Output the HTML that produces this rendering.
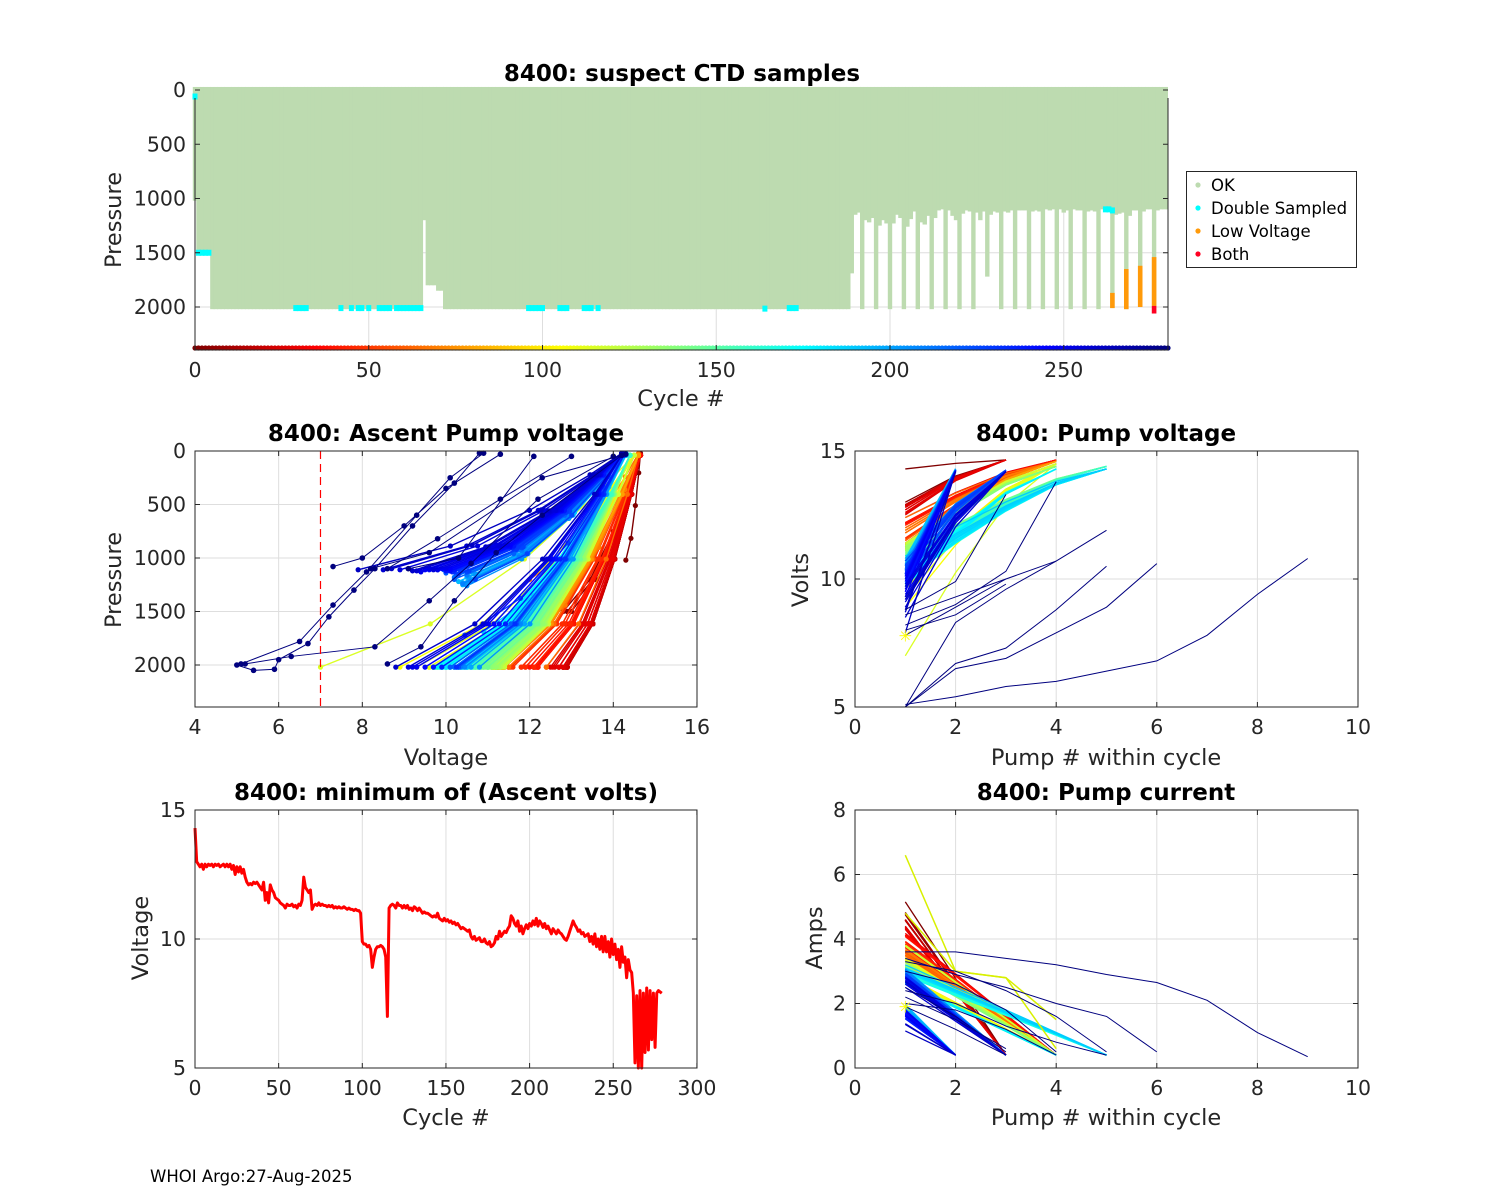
<!DOCTYPE html>
<html><head><meta charset="utf-8"><title>8400 float diagnostics</title>
<style>
html,body{margin:0;padding:0;background:#fff;}
svg{display:block;font-family:"DejaVu Sans","Liberation Sans",sans-serif;}
.tl{font-size:20.5px;fill:#262626;}
.al{font-size:22.5px;fill:#262626;}
.tt{font-size:23px;font-weight:bold;fill:#000;}
</style></head>
<body>
<svg id="fig" width="1500" height="1200" viewBox="0 0 1500 1200" xmlns="http://www.w3.org/2000/svg"></svg>
<script>
// ---------- data ----------
const cycles = Array.from({length: 281}, (_, i) => i);
// min ascent voltage per cycle
const minVolts = [
14.3,13.0,12.9,12.8,12.9,12.7,12.9,12.8,12.9,12.85,
12.9,12.8,12.9,12.85,12.9,12.8,12.85,12.9,12.8,12.9,
12.8,12.9,12.7,12.85,12.5,12.8,12.6,12.8,12.55,12.7,
12.4,12.2,12.1,12.15,12.1,12.2,12.15,12.2,12.1,12.0,
11.9,12.2,11.5,11.8,11.4,12.1,11.9,11.8,11.6,11.55,
11.5,11.4,11.35,11.3,11.2,11.35,11.3,11.3,11.35,11.25,
11.3,11.2,11.35,11.3,11.5,12.4,12.0,11.9,11.8,11.9,
11.15,11.3,11.35,11.3,11.4,11.3,11.35,11.3,11.3,11.25,
11.3,11.25,11.3,11.2,11.25,11.2,11.25,11.2,11.2,11.25,
11.2,11.15,11.2,11.15,11.15,11.1,11.15,11.1,11.1,11.0,
9.9,9.8,9.8,9.7,9.75,9.6,8.9,9.3,9.6,9.7,
9.7,9.75,9.7,9.6,9.3,7.0,11.2,11.3,11.35,11.3,
11.2,11.4,11.3,11.3,11.2,11.3,11.2,11.3,11.15,11.2,
11.1,11.25,11.2,11.1,11.2,11.1,11.0,11.05,11.0,11.0,
10.95,10.9,10.85,10.9,10.85,11.0,10.8,10.75,10.7,10.8,
10.7,10.75,10.65,10.7,10.6,10.65,10.55,10.6,10.5,10.4,
10.45,10.4,10.35,10.3,10.35,10.1,10.0,10.1,9.95,10.0,
10.05,9.9,9.9,10.0,9.85,9.8,9.9,9.7,9.75,9.85,
10.1,10.0,10.3,10.1,10.2,10.3,10.25,10.4,10.5,10.9,
10.8,10.6,10.5,10.7,10.3,10.5,10.2,10.4,10.55,10.4,
10.6,10.5,10.7,10.55,10.8,10.5,10.7,10.6,10.45,10.6,
10.4,10.5,10.35,10.2,10.4,10.3,10.2,10.35,10.25,10.2,
10.1,10.0,9.95,10.1,10.3,10.5,10.7,10.55,10.45,10.3,
10.35,10.2,10.25,10.1,10.15,10.2,9.9,10.1,9.8,10.2,
9.7,10.0,9.6,10.1,9.5,10.1,9.5,9.9,9.3,10.0,
9.4,9.8,9.2,9.6,8.9,9.7,9.1,9.3,8.5,9.2,
8.8,8.7,7.9,5.2,7.8,5.0,8.0,5.0,7.9,5.6,
8.1,5.7,8.0,6.1,7.9,5.8,7.9,8.0,7.95,7.9];
// max pressure per cycle as [count, pressure] runs
const depthRuns = [[1,1020],[4,1500],[61,2020],[1,1200],[3,1800],[2,1850],[117,2020],[1,1690],
[1,1150],[1,1130],[1,2020],[1,1200],[1,1220],[1,1180],[1,2020],[1,1250],[1,1200],[1,1230],[1,2020],
[1,1230],[1,1150],[1,1180],[1,2020],[1,1260],[1,1190],[1,1120],[1,2020],[1,1220],[1,1240],[1,1160],[1,2020],
[1,1180],[1,1110],[1,1100],[1,2020],[1,1110],[1,1160],[1,1200],[1,2020],[1,1140],[1,1110],[1,1120],[1,2020],
[1,1130],[1,1200],[1,1120],[1,1720],[1,1150],[1,1120],[1,1130],[1,2020],[1,1120],[1,1130],[1,1110],[1,2020],
[1,1110],[1,1110],[1,1110],[1,2020],[1,1120],[1,1110],[1,1120],[1,2020],[1,1100],[1,1110],[1,1100],[1,2020],
[1,1100],[1,1130],[1,1110],[1,2020],[1,1100],[1,1110],[1,1110],[1,2020],[1,1120],[1,1110],[1,1120],[1,2020],
[1,1100],[1,1110],[1,1100],[1,2010],[1,1150],[1,1140],[1,1130],[1,2020],[1,1160],[1,1110],[1,1110],[1,2000],
[1,1120],[1,1100],[1,1100],[1,2060],[1,1110],[1,1100],[1,1100],[1,1100]];
// double-sampled points [cycle, pressure]
const doubleSampled = [[0,60],[1,1500],[2,1500],[3,1500],[4,1500],[29,2010],[30,2010],[31,2010],[32,2010],
[42,2010],[45,2010],[47,2010],[48,2010],[50,2010],[53,2010],[54,2010],[55,2010],[56,2010],[58,2010],[59,2010],
[60,2010],[61,2010],[62,2010],[63,2010],[64,2010],[65,2010],[96,2010],[97,2010],[98,2010],[99,2010],[100,2010],
[105,2010],[106,2010],[107,2010],[112,2010],[113,2010],[114,2010],[116,2010],[164,2015],[171,2010],[172,2010],[173,2010],
[262,1100],[263,1100],[264,1110]];
// low voltage segments [cycle, pTop, pBottom]
const lowVoltage = [[264,1870,2010],[268,1650,2020],[272,1620,2000],[276,1540,1990]];
const bothFlags = [[276,1990,2060]];
// surface voltage by 40-cycle block
const surfaceVolts = [14.65,14.6,14.5,14.4,14.3,14.25,14.2,14.2];
// pumps per cycle by 10-cycle block
const pumpCount = [3,3,3,4,4,4,4,4,4,4,4,4,4,4,5,5,5,4,5,2,3,2,3,2,2,3,2,2];
// first-pump current by 10-cycle block
const firstCurrent = [4.2,4.0,3.8,3.7,3.5,3.4,3.3,3.2,3.0,3.2,3.0,3.6,3.1,3.0,3.0,2.9,3.0,2.8,3.1,1.9,3.0,1.8,2.9,1.7,1.9,3.0,1.8,1.8];
// anomalous late-cycle ascent profiles: [voltage, pressure] pairs
const oddProfiles = [
 [[5.0,2000],[5.4,2050],[5.9,2040],[6.0,1950],[6.7,1800],[7.2,1550],[7.8,1300],[8.3,1100],[9.2,700],[10.2,300],[10.8,20]],
 [[5.1,1990],[6.5,1780],[7.3,1440],[8.1,1130],[9.3,600],[10.1,250],[10.9,20]],
 [[5.2,1990],[6.3,1920],[8.3,1830],[9.6,1400],[10.6,1050],[12.2,450],[14.0,50]],
 [[7.3,1080],[8.0,1000],[9.0,700],[10.0,350],[11.3,30]],
 [[8.6,1100],[9.8,820],[11.3,450],[13.0,50]],
 [[8.6,1990],[9.4,1830],[10.2,1400],[11.2,950],[12.3,600],[14.2,40]],
 [[9.1,1100],[10.3,1000],[12.1,50]],
 [[8.2,1100],[9.6,950],[12.3,250],[14.3,30]]
];
const oddPumpVolts = [[5.1,5.4,5.8,6.0,6.4,6.8,7.8,9.4,10.8],[5.0,6.7,7.3,8.8,10.5],[5.0,6.5,6.9,7.9,8.9,10.6],
 [5.0,8.3,9.6,10.7,11.9],[8.2,9.0,10.3,13.8],[8.6,9.3,10.0,10.7],[8.8,9.9,13.3],[8.0,8.6,9.8],[7.8,8.9,10.0]];
const oddPumpAmps = [[3.6,3.6,3.4,3.2,2.9,2.65,2.1,1.1,0.35],[3.3,3.0,2.4,1.6,0.5],[3.4,2.9,2.5,2.0,1.6,0.5],
 [2.4,2.0,1.3,0.8,0.4],[3.0,2.6,1.8,0.5],[2.0,1.8,1.2,0.4],[2.5,1.6,0.5],[2.2,1.5,0.6],[1.9,1.2,0.4]];
const outlierAmps = [[6.6,3.0,2.8,1.5],[4.8,3.0,2.8,0.6]];

// ---------- helpers ----------
const NS = 'http://www.w3.org/2000/svg';
const svg = document.getElementById('fig');
function mk(tag, attrs, parent) {
  const e = document.createElementNS(NS, tag);
  for (const k in attrs) e.setAttribute(k, attrs[k]);
  (parent || svg).appendChild(e);
  return e;
}
function txt(s, attrs, parent) { const t = mk('text', attrs, parent); t.textContent = s; return t; }
function jet(t) {
  const c = v => Math.max(0, Math.min(1, v));
  const r = c(1.5 - Math.abs(4 * t - 3)), g = c(1.5 - Math.abs(4 * t - 2)), b = c(1.5 - Math.abs(4 * t - 1));
  return 'rgb(' + Math.round(r * 255) + ',' + Math.round(g * 255) + ',' + Math.round(b * 255) + ')';
}
function cycColor(i) { return jet(1 - i / 280); }
const maxP = [];
depthRuns.forEach(r => { for (let k = 0; k < r[0]; k++) maxP.push(r[1]); });

function axesFrame(g, box, xt, yt, xs, ys) {
  const [x0, y0, x1, y1] = box;
  const grid = mk('g', {}, g);
  
  
  xt.forEach(v => mk('line', {x1: xs(v), x2: xs(v), y1: y0, y2: y1, stroke: '#dedede', 'stroke-width': 1}, grid));
  yt.forEach(v => mk('line', {x1: x0, x2: x1, y1: ys(v), y2: ys(v), stroke: '#dedede', 'stroke-width': 1}, grid));
  return grid;
}
function axesBorder(g, box, xt, yt, xs, ys, xname, yname, opts) {
  opts = opts || {};
  const [x0, y0, x1, y1] = box;
  const b = mk('g', {}, g);
  
  
  const st = {stroke: '#262626', 'stroke-width': 1, fill: 'none'};
  if (opts.noTop) {
    mk('polyline', Object.assign({points: `${x0},${y0 + 10} ${x0},${y1} ${x1},${y1} ${x1},${y0 + 10}`}, st), b);
  } else {
    mk('rect', Object.assign({x: x0, y: y0, width: x1 - x0, height: y1 - y0}, st), b);
  }
  xt.forEach(v => {
    mk('line', {x1: xs(v), x2: xs(v), y1: y1, y2: y1 - 5, stroke: '#262626'}, b);
    if (!opts.noTop) mk('line', {x1: xs(v), x2: xs(v), y1: y0, y2: y0 + 5, stroke: '#262626'}, b);
  });
  yt.forEach(v => {
    mk('line', {x1: x0, x2: x0 + 5, y1: ys(v), y2: ys(v), stroke: '#262626'}, b);
    mk('line', {x1: x1, x2: x1 - 5, y1: ys(v), y2: ys(v), stroke: '#262626'}, b);
  });
  const xl = mk('g', {}, g);
  
  
  xt.forEach(v => txt(String(v), {x: xs(v), y: y1 + 27, 'text-anchor': 'middle', class: 'tl'}, xl));
  const yl = mk('g', {}, g);
  
  
  yt.forEach(v => txt(String(v), {x: x0 - 9, y: ys(v) + 7, 'text-anchor': 'end', class: 'tl'}, yl));
}

// ---------- panel 1: suspect CTD samples ----------
(function () {
  const g = mk('g', {});
  
  
  const box = [195, 88, 1168, 350];
  const xs = c => 195 + c * 3.475;
  const ys = p => 90 + p * 0.1085;
  const xt = [0, 50, 100, 150, 200, 250], yt = [0, 500, 1000, 1500, 2000];
  axesFrame(g, box, xt, yt, xs, ys);
  const ok = mk('g', {}, g);
  
  
  maxP.forEach((p, i) => {
    const x = xs(i) - 2.2;
    const w = (i === maxP.length - 1) ? Math.min(4.4, 1168 - x) : 4.4;
    const r = mk('rect', {x: x, y: ys(-28), width: w, height: ys(p) - ys(-28), fill: '#bddbb0'}, ok);
    
    
  });
  const ds = mk('g', {}, g);
  
  
  doubleSampled.forEach(d => {
    const r = mk('rect', {x: xs(d[0]) - 2.5, y: ys(d[1]) - 3, width: 5, height: 6, fill: '#00ffff'}, ds);
    
    
  });
  lowVoltage.forEach(d => {
    const r = mk('rect', {x: xs(d[0]) - 2.3, y: ys(d[1]), width: 4.6, height: ys(d[2]) - ys(d[1]), fill: '#ff9a0a'}, g);
    
    
  });
  bothFlags.forEach(d => {
    const r = mk('rect', {x: xs(d[0]) - 2.3, y: ys(d[1]), width: 4.6, height: ys(d[2]) - ys(d[1]), fill: '#ff0022'}, g);
    
    
  });
  const cb = mk('g', {}, g);
  
  
  cycles.forEach(i => {
    const c = mk('circle', {cx: xs(i), cy: 348, r: 2.6, fill: cycColor(i)}, cb);
    
    
  });
  axesBorder(g, box, xt, yt, xs, ys, 'ctd', 'ctd', {noTop: true});
  const t = txt('8400: suspect CTD samples', {x: 682, y: 81, 'text-anchor': 'middle', class: 'tt'}, g);
   
  const xl = txt('Cycle #', {x: 681, y: 406, 'text-anchor': 'middle', class: 'al'}, g);
   
  const yl = txt('Pressure', {x: 0, y: 0, 'text-anchor': 'middle', class: 'al', transform: 'translate(121,220) rotate(-90)'}, g);
   
  // legend
  const lg = mk('g', {}, g);
  
  
  mk('rect', {x: 1186.5, y: 171.5, width: 170, height: 96, fill: '#fff', stroke: '#262626'}, lg);
  const items = [['OK', '#bddbb0'], ['Double Sampled', '#00ffff'], ['Low Voltage', '#ff9a0a'], ['Both', '#ff0022']];
  items.forEach((it, k) => {
    const e = mk('g', {}, lg);
    
    
    mk('circle', {cx: 1198, cy: 185 + k * 23, r: 2.6, fill: it[1]}, e);
    txt(it[0], {x: 1211, y: 191 + k * 23, style: 'font-size:16.5px;fill:#000'}, e);
  });
})();

// ---------- panel 2: ascent pump voltage ----------
(function () {
  const g = mk('g', {});
  
  
  const box = [195, 451, 697, 707];
  const xs = v => 195 + (v - 4) * 41.83;
  const ys = p => 451 + p * 0.107;
  const xt = [4, 6, 8, 10, 12, 14, 16], yt = [0, 500, 1000, 1500, 2000];
  axesFrame(g, box, xt, yt, xs, ys);
  const fr = [0, 0.35, 0.65, 0.88, 1], pf = [1, 0.8, 0.5, 0.2, 0.02];
  const prof = mk('g', {}, g);
  
  
  for (let i = 0; i < 263; i++) {
    const vs = surfaceVolts[Math.floor(i / 40)];
    const vm = minVolts[i], D = maxP[i];
    const pts = fr.map((f, k) => [xs(vm + f * (vs - vm)), ys(D * pf[k])]);
    const col = cycColor(i);
    const l = mk('polyline', {points: pts.map(p => p.join(',')).join(' '), fill: 'none', stroke: col, 'stroke-width': 1.4}, prof);
    
    
    pts.forEach(p => mk('circle', {cx: p[0], cy: p[1], r: 2.6, fill: col}, prof));
  }
  oddProfiles.forEach(pr => {
    const pts = pr.map(d => [xs(d[0]), ys(d[1])]);
    const l = mk('polyline', {points: pts.map(p => p.join(',')).join(' '), fill: 'none', stroke: '#00007f', 'stroke-width': 1}, prof);
    
    
    pts.forEach(p => mk('circle', {cx: p[0], cy: p[1], r: 2.8, fill: '#00007f'}, prof));
  });
  const th = mk('line', {x1: xs(7), x2: xs(7), y1: 451, y2: 707, stroke: '#ff0000', 'stroke-width': 1.2, 'stroke-dasharray': '8,5'}, g);
  
  
  axesBorder(g, box, xt, yt, xs, ys, 'ascent', 'ascent');
  const t = txt('8400: Ascent Pump voltage', {x: 446, y: 441, 'text-anchor': 'middle', class: 'tt'}, g);
   
  const xl = txt('Voltage', {x: 446, y: 765, 'text-anchor': 'middle', class: 'al'}, g);
   
  const yl = txt('Pressure', {x: 0, y: 0, 'text-anchor': 'middle', class: 'al', transform: 'translate(121,580) rotate(-90)'}, g);
   
})();

// ---------- panel 3: pump voltage ----------
(function () {
  const g = mk('g', {});
  
  
  const box = [855, 451, 1358, 707];
  const xs = k => 855 + k * 50.3;
  const ys = v => 707 - (v - 5) * 25.6;
  const xt = [0, 2, 4, 6, 8, 10], yt = [5, 10, 15];
  axesFrame(g, box, xt, yt, xs, ys);
  const L = mk('g', {}, g);
  
  
  for (let i = 0; i < 263; i++) {
    const n = pumpCount[Math.floor(i / 10)];
    const vs = surfaceVolts[Math.floor(i / 40)];
    const v1 = minVolts[i];
    const pts = [];
    for (let k = 1; k <= n; k++) {
      const f = 1 - Math.pow(1 - (k - 1) / (n - 1), 1.4);
      pts.push([xs(k), ys(v1 + f * (vs - v1))]);
    }
    const l = mk('polyline', {points: pts.map(p => p.join(',')).join(' '), fill: 'none', stroke: cycColor(i), 'stroke-width': 1.3}, L);
    
    
  }
  oddPumpVolts.forEach(arr => {
    const pts = arr.map((v, k) => [xs(k + 1), ys(v)]);
    const l = mk('polyline', {points: pts.map(p => p.join(',')).join(' '), fill: 'none', stroke: '#00007f', 'stroke-width': 1}, L);
    
    
  });
  const st = txt('✳', {x: xs(1), y: ys(7.8) + 6, 'text-anchor': 'middle', style: 'font-size:16px;fill:#ffff00'}, g);
   
  axesBorder(g, box, xt, yt, xs, ys, 'pump-volts', 'pump-volts');
  const t = txt('8400: Pump voltage', {x: 1106, y: 441, 'text-anchor': 'middle', class: 'tt'}, g);
   
  const xl = txt('Pump # within cycle', {x: 1106, y: 765, 'text-anchor': 'middle', class: 'al'}, g);
   
  const yl = txt('Volts', {x: 0, y: 0, 'text-anchor': 'middle', class: 'al', transform: 'translate(808,580) rotate(-90)'}, g);
   
})();

// ---------- panel 4: minimum ascent volts ----------
(function () {
  const g = mk('g', {});
  
  
  const box = [195, 810, 697, 1068];
  const xs = c => 195 + c * 1.673;
  const ys = v => 1068 - (v - 5) * 25.8;
  const xt = [0, 50, 100, 150, 200, 250, 300], yt = [5, 10, 15];
  axesFrame(g, box, xt, yt, xs, ys);
  const pts = minVolts.map((v, i) => xs(i) + ',' + ys(v)).join(' ');
  const l = mk('polyline', {points: pts, fill: 'none', stroke: '#ff0000', 'stroke-width': 3, 'stroke-linejoin': 'round'}, g);
  
  
  axesBorder(g, box, xt, yt, xs, ys, 'min-volts', 'min-volts');
  const t = txt('8400: minimum of (Ascent volts)', {x: 446, y: 800, 'text-anchor': 'middle', class: 'tt'}, g);
   
  const xl = txt('Cycle #', {x: 446, y: 1125, 'text-anchor': 'middle', class: 'al'}, g);
   
  const yl = txt('Voltage', {x: 0, y: 0, 'text-anchor': 'middle', class: 'al', transform: 'translate(148,938) rotate(-90)'}, g);
   
})();

// ---------- panel 5: pump current ----------
(function () {
  const g = mk('g', {});
  
  
  const box = [855, 810, 1358, 1068];
  const xs = k => 855 + k * 50.3;
  const ys = a => 1068 - a * 32.25;
  const xt = [0, 2, 4, 6, 8, 10], yt = [0, 2, 4, 6, 8];
  axesFrame(g, box, xt, yt, xs, ys);
  const L = mk('g', {}, g);
  
  
  for (let i = 0; i < 263; i++) {
    const n = pumpCount[Math.floor(i / 10)];
    const a1 = firstCurrent[Math.floor(i / 10)] + (minVolts[i] - 10.5) * 0.25;
    const pts = [];
    for (let k = 1; k <= n; k++) {
      const f = (k - 1) / (n - 1);
      pts.push([xs(k), ys(a1 + f * (0.4 - a1))]);
    }
    const l = mk('polyline', {points: pts.map(p => p.join(',')).join(' '), fill: 'none', stroke: cycColor(i), 'stroke-width': 1.3}, L);
    
    
  }
  outlierAmps.forEach(arr => {
    const pts = arr.map((a, k) => [xs(k + 1), ys(a)]);
    const l = mk('polyline', {points: pts.map(p => p.join(',')).join(' '), fill: 'none', stroke: '#d8f000', 'stroke-width': 1.5}, L);
    
    
  });
  oddPumpAmps.forEach(arr => {
    const pts = arr.map((a, k) => [xs(k + 1), ys(a)]);
    const l = mk('polyline', {points: pts.map(p => p.join(',')).join(' '), fill: 'none', stroke: '#00007f', 'stroke-width': 1}, L);
    
    
  });
  const st = txt('✳', {x: xs(1), y: ys(1.9) + 6, 'text-anchor': 'middle', style: 'font-size:16px;fill:#ffff00'}, g);
   
  axesBorder(g, box, xt, yt, xs, ys, 'pump-current', 'pump-current');
  const t = txt('8400: Pump current', {x: 1106, y: 800, 'text-anchor': 'middle', class: 'tt'}, g);
   
  const xl = txt('Pump # within cycle', {x: 1106, y: 1125, 'text-anchor': 'middle', class: 'al'}, g);
   
  const yl = txt('Amps', {x: 0, y: 0, 'text-anchor': 'middle', class: 'al', transform: 'translate(822,938) rotate(-90)'}, g);
   
})();

const foot = txt('WHOI Argo:27-Aug-2025', {x: 150, y: 1182, style: 'font-size:16.5px;fill:#000'});


</script>
</body></html>
